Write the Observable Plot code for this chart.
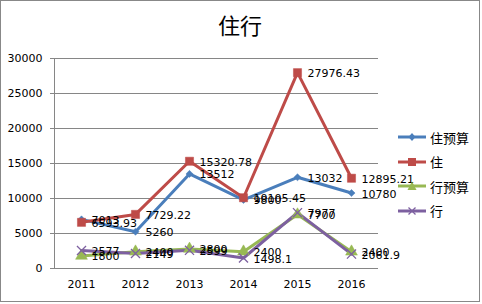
<!DOCTYPE html>
<html>
<head>
<meta charset="utf-8">
<script src="https://cdn.jsdelivr.net/npm/d3@7"></script>
<script src="https://cdn.jsdelivr.net/npm/@observablehq/plot@0.6"></script>
<style>
  html, body { margin: 0; padding: 0; background: #fff; }
  #frame { position: relative; width: 478px; height: 300px; border: 1px solid #888; background: #fff; font-family: "DejaVu Sans", sans-serif; }
  #title { position: absolute; left: 0; width: 478px; top: 8px; text-align: center; font-family: "Noto Sans CJK SC", sans-serif; font-size: 22px; color: #000; line-height: 30px; }
  #legend { position: absolute; left: 396px; top: 124px; font-family: "Noto Sans CJK SC", sans-serif; font-size: 13px; }
  .item { display: flex; align-items: center; height: 24.5px; }
  .item svg { margin-right: 3px; }
</style>
</head>
<body>
<div id="frame">
  <div id="title">住行</div>
  <div id="chart"></div>
  <div id="legend"></div>
</div>
<script>
const years = ["2011", "2012", "2013", "2014", "2015", "2016"];
const seriesNames = ["住预算", "住", "行预算", "行"];
const zhuBudget = [7013, 5260, 13512, 9800, 13032, 10780];
const zhu = [6593.93, 7729.22, 15320.78, 10105.45, 27976.43, 12895.21];
const xingBudget = [1800, 2400, 2800, 2400, 7700, 2400];
const xing = [2577, 2149, 2599, 1498.1, 7977, 2061.9];
const yTicks = [0, 5000, 10000, 15000, 20000, 25000, 30000];
const colors = ["#4A7EBB", "#BE4B48", "#98B954", "#7D60A0"];
const symbols = ["diamond2", "square", "triangle", "times"];
const sizes = [3.2, 4.6, 4.4, 4.2];

const allSeries = [zhuBudget, zhu, xingBudget, xing];
const rows = [];
allSeries.forEach((vals, s) => vals.forEach((v, i) => rows.push({series: seriesNames[s], year: years[i], value: v})));

const marks = [
  Plot.gridY(yTicks, {stroke: "#868686", strokeOpacity: 1, strokeWidth: 1}),
  Plot.ruleX([years[0]], {stroke: "#868686", y1: 0, y2: 30000, dx: -27}),
  Plot.axisY(yTicks, {tickSize: 4, tickPadding: 8, fontSize: 11, stroke: "#868686", tickFormat: d => String(d), label: null, color: "#000"}),
  Plot.axisX(years, {tickSize: 0, tickPadding: 12, fontSize: 11, label: null})
];
seriesNames.forEach((name, s) => {
  const d = rows.filter(r => r.series === name);
  marks.push(Plot.line(d, {x: "year", y: "value", stroke: colors[s], strokeWidth: 3}));
});
seriesNames.forEach((name, s) => {
  const d = rows.filter(r => r.series === name);
  const sym = symbols[s];
  if (sym === "times") {
    marks.push(Plot.dot(d, {x: "year", y: "value", symbol: "times", r: sizes[s], stroke: colors[s], strokeWidth: 1.3}));
  } else {
    marks.push(Plot.dot(d, {x: "year", y: "value", symbol: sym, r: sizes[s], fill: colors[s], stroke: colors[s], strokeWidth: 0.5}));
  }
});
seriesNames.forEach((name, s) => {
  const d = rows.filter(r => r.series === name);
  marks.push(Plot.text(d, {x: "year", y: "value", text: r => String(r.value), textAnchor: "start", dx: 10, dy: 1, fontSize: 11, fill: "#000"}));
});

const chart = Plot.plot({
  width: 478,
  height: 300,
  marginLeft: 53,
  marginRight: 101,
  marginTop: 57,
  marginBottom: 33,
  style: {fontFamily: "DejaVu Sans, sans-serif", background: "transparent", color: "#000"},
  x: {type: "point", domain: years, padding: 0.5},
  y: {domain: [0, 30000]},
  marks
});
document.getElementById("chart").appendChild(chart);

const legend = document.getElementById("legend");
seriesNames.forEach((name, s) => {
  const item = document.createElement("div");
  item.className = "item";
  const svg = d3.create("svg").attr("width", 30).attr("height", 14);
  svg.append("line").attr("x1", 1).attr("x2", 29).attr("y1", 7).attr("y2", 7).attr("stroke", colors[s]).attr("stroke-width", 3);
  const sym = symbols[s];
  if (sym === "diamond2") svg.append("path").attr("d", "M15,3 L18.5,7 L15,11 L11.5,7Z").attr("fill", colors[s]);
  else if (sym === "square") svg.append("rect").attr("x", 11).attr("y", 3).attr("width", 8).attr("height", 8).attr("fill", colors[s]);
  else if (sym === "triangle") svg.append("path").attr("d", "M15,2.5 L19.5,11 L10.5,11Z").attr("fill", colors[s]);
  else svg.append("path").attr("d", "M11.5,3.5 L18.5,10.5 M18.5,3.5 L11.5,10.5").attr("stroke", colors[s]).attr("stroke-width", 1.3);
  item.appendChild(svg.node());
  const t = document.createElement("span");
  t.textContent = name;
  item.appendChild(t);
  legend.appendChild(item);
});
</script>
</body>
</html>
